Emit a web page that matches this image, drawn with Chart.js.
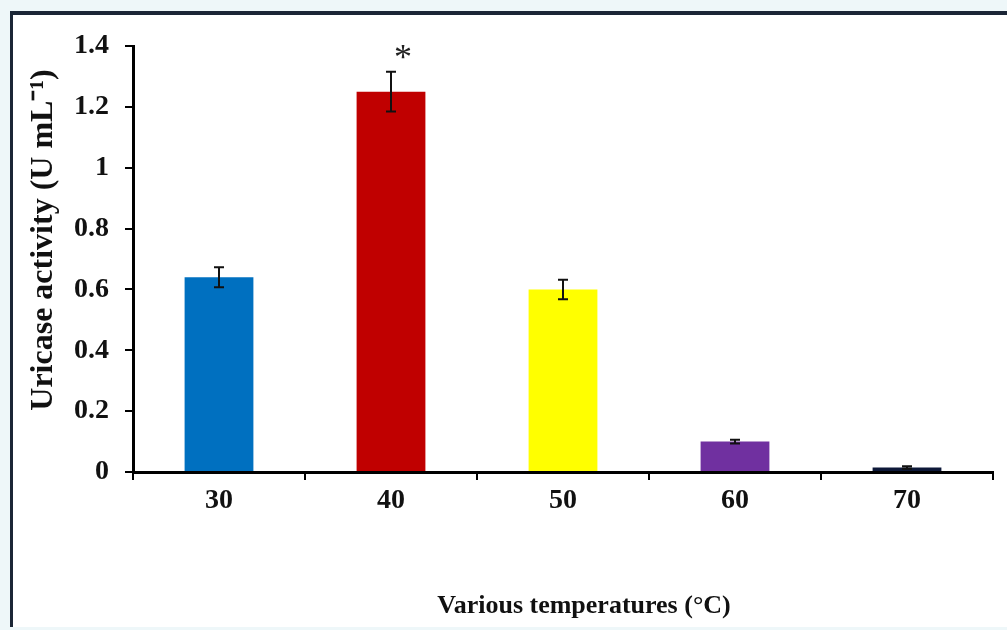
<!DOCTYPE html>
<html>
<head>
<meta charset="utf-8">
<script src="https://cdn.jsdelivr.net/npm/chart.js@4"></script>
<style>
  html, body { margin: 0; padding: 0; background: #eef7f9; }
  #wrap { position: relative; width: 1007px; height: 630px; overflow: hidden; }
  #panel { position: absolute; left: 10px; top: 11px; width: 1000px; height: 612px;
           background: #ffffff; border-left: 3px solid #1b2636; border-top: 4px solid #1b2636; }
  #myChart { position: absolute; left: 0; top: 0; }
</style>
</head>
<body>
<div id="wrap">
  <div id="panel"></div>
  <canvas id="myChart" width="1007" height="630"></canvas>
</div>
<script>
// uricase activity at various temperatures
let labels = ['30', '40', '50', '60', '70'];
let activity = [0.64, 1.25, 0.60, 0.10, 0.015];
let errors = [0.033, 0.065, 0.032, 0.006, 0.004];
let stars = ['', '*', '', '', ''];
let barColors = ['#0070c0', '#c00000', '#ffff00', '#7030a0', '#0d1838'];
let yTicks = [0, 0.2, 0.4, 0.6, 0.8, 1, 1.2, 1.4];

let serif = "'Liberation Serif', 'Times New Roman', serif";

// error bars + asterisk, drawn from the data through the scales
let errorBars = {
  id: 'errorBars',
  afterDatasetsDraw(chart) {
    let ctx = chart.ctx;
    let meta = chart.getDatasetMeta(0);
    let y = chart.scales.y;
    ctx.save();
    ctx.strokeStyle = '#111';
    ctx.lineWidth = 2;
    meta.data.forEach(function (bar, i) {
      let x = bar.x;
      let top = y.getPixelForValue(activity[i] + errors[i]);
      let bot = y.getPixelForValue(activity[i] - errors[i]);
      ctx.beginPath();
      ctx.moveTo(x, top); ctx.lineTo(x, bot);
      ctx.moveTo(x - 5, top); ctx.lineTo(x + 5, top);
      ctx.moveTo(x - 5, bot); ctx.lineTo(x + 5, bot);
      ctx.stroke();
      if (stars[i]) {
        ctx.fillStyle = '#222';
        ctx.font = '36px ' + serif;
        ctx.textAlign = 'center';
        ctx.textBaseline = 'middle';
        ctx.fillText(stars[i], x + 12, top - 12);
      }
    });
    ctx.restore();
  }
};

// axis titles
let axisTitles = {
  id: 'axisTitles',
  afterDraw(chart) {
    let ctx = chart.ctx;
    ctx.save();
    ctx.fillStyle = '#111';
    ctx.textAlign = 'center';
    ctx.textBaseline = 'middle';
    ctx.font = 'bold 26px ' + serif;
    ctx.fillText('Various temperatures (\u00B0C)', 584, 606);
    ctx.font = 'bold 32px ' + serif;
    ctx.translate(44, 240);
    ctx.rotate(-Math.PI / 2);
    ctx.fillText('Uricase activity (U mL\u207B\u00B9)', 0, 0);
    ctx.restore();
  }
};

let myChart1 = document.getElementById('myChart').getContext('2d');
let chart1 = new Chart(myChart1, {
  type: 'bar',
  data: {
    labels: labels,
    datasets: [{
      data: activity,
      backgroundColor: barColors,
      borderWidth: 0,
      barPercentage: 0.8,
      categoryPercentage: 0.5
    }]
  },
  options: {
    responsive: false,
    animation: false,
    layout: { padding: { left: 0, right: 14, top: 46, bottom: 0 } },
    plugins: { legend: { display: false }, tooltip: { enabled: false } },
    scales: {
      x: {
        afterFit(scale) { scale.height = 158; },
        grid: { drawOnChartArea: false, drawTicks: true, tickLength: 8, color: '#000', lineWidth: 2, offset: true },
        border: { color: '#000', width: 3 },
        ticks: { color: '#111', padding: 4, font: { family: serif, size: 28, weight: 'bold' } }
      },
      y: {
        min: 0,
        max: 1.4,
        afterFit(scale) { scale.width = 133; },
        afterBuildTicks(scale) { scale.ticks = yTicks.map(v => ({ value: v })); },
        grid: { drawOnChartArea: false, drawTicks: true, tickLength: 8, color: '#000', lineWidth: 2 },
        border: { color: '#000', width: 3 },
        ticks: { color: '#111', padding: 16, font: { family: serif, size: 28, weight: 'bold' },
                 callback: v => String(v) }
      }
    }
  },
  plugins: [errorBars, axisTitles]
});
</script>
</body>
</html>
